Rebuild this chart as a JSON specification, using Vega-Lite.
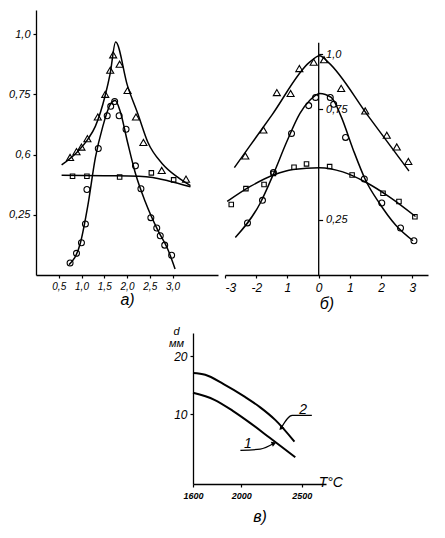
{
  "$schema": "https://vega.github.io/schema/vega-lite/v6.json",
  "background": "white",
  "padding": {"left": 8, "top": 10, "right": 5, "bottom": 5},
  "config": {
    "font": "Liberation Sans",
    "view": {"stroke": null},
    "axis": {"domainColor": "black", "tickColor": "black", "labelColor": "black", "titleColor": "black", "grid": false, "labelFontStyle": "italic", "labelFontSize": 11, "titleFontWeight": "normal", "domainWidth": 1.3, "tickWidth": 1.2, "labelOverlap": false}
  },
  "datasets": {
    "aLines": [
      {"s": "tri", "x": 0.563, "y": 0.457}, {"s": "tri", "x": 0.912, "y": 0.512}, {"s": "tri", "x": 1.141, "y": 0.564}, {"s": "tri", "x": 1.304, "y": 0.617}, {"s": "tri", "x": 1.522, "y": 0.746}, {"s": "tri", "x": 1.631, "y": 0.837}, {"s": "tri", "x": 1.75, "y": 0.967}, {"s": "tri", "x": 2.012, "y": 0.785}, {"s": "tri", "x": 2.24, "y": 0.668}, {"s": "tri", "x": 2.458, "y": 0.551}, {"s": "tri", "x": 2.785, "y": 0.46}, {"s": "tri", "x": 3.112, "y": 0.406}, {"s": "tri", "x": 3.395, "y": 0.371},
      {"s": "circ", "x": 0.727, "y": 0.043}, {"s": "circ", "x": 0.977, "y": 0.134}, {"s": "circ", "x": 1.141, "y": 0.29}, {"s": "circ", "x": 1.304, "y": 0.486}, {"s": "circ", "x": 1.467, "y": 0.616}, {"s": "circ", "x": 1.631, "y": 0.707}, {"s": "circ", "x": 1.74, "y": 0.724}, {"s": "circ", "x": 1.848, "y": 0.681}, {"s": "circ", "x": 2.012, "y": 0.551}, {"s": "circ", "x": 2.186, "y": 0.421}, {"s": "circ", "x": 2.404, "y": 0.303}, {"s": "circ", "x": 2.676, "y": 0.186}, {"s": "circ", "x": 2.894, "y": 0.108}, {"s": "circ", "x": 3.057, "y": 0.025},
      {"s": "sq", "x": 0.563, "y": 0.414}, {"s": "sq", "x": 1.5, "y": 0.412}, {"s": "sq", "x": 2.262, "y": 0.41}, {"s": "sq", "x": 2.567, "y": 0.405}, {"s": "sq", "x": 2.916, "y": 0.39}, {"s": "sq", "x": 3.395, "y": 0.366}
    ],
    "aPoints": [
      {"s": "tri", "x": 0.749, "y": 0.488}, {"s": "tri", "x": 0.89, "y": 0.512}, {"s": "tri", "x": 0.999, "y": 0.531}, {"s": "tri", "x": 1.13, "y": 0.566}, {"s": "tri", "x": 1.358, "y": 0.656}, {"s": "tri", "x": 1.522, "y": 0.75}, {"s": "tri", "x": 1.631, "y": 0.85}, {"s": "tri", "x": 1.696, "y": 0.914}, {"s": "tri", "x": 1.838, "y": 0.875}, {"s": "tri", "x": 2.012, "y": 0.766}, {"s": "tri", "x": 2.197, "y": 0.656}, {"s": "tri", "x": 2.36, "y": 0.55}, {"s": "tri", "x": 2.763, "y": 0.434}, {"s": "tri", "x": 3.297, "y": 0.398},
      {"s": "circ", "x": 0.749, "y": 0.05}, {"s": "circ", "x": 0.89, "y": 0.09}, {"s": "circ", "x": 0.999, "y": 0.134}, {"s": "circ", "x": 1.086, "y": 0.212}, {"s": "circ", "x": 1.119, "y": 0.355}, {"s": "circ", "x": 1.369, "y": 0.525}, {"s": "circ", "x": 1.565, "y": 0.661}, {"s": "circ", "x": 1.642, "y": 0.7}, {"s": "circ", "x": 1.729, "y": 0.72}, {"s": "circ", "x": 1.827, "y": 0.661}, {"s": "circ", "x": 1.979, "y": 0.605}, {"s": "circ", "x": 2.186, "y": 0.453}, {"s": "circ", "x": 2.306, "y": 0.358}, {"s": "circ", "x": 2.524, "y": 0.238}, {"s": "circ", "x": 2.654, "y": 0.195}, {"s": "circ", "x": 2.731, "y": 0.163}, {"s": "circ", "x": 2.829, "y": 0.124}, {"s": "circ", "x": 2.981, "y": 0.082},
      {"s": "sq", "x": 0.803, "y": 0.41}, {"s": "sq", "x": 1.119, "y": 0.41}, {"s": "sq", "x": 1.838, "y": 0.407}, {"s": "sq", "x": 2.535, "y": 0.424}, {"s": "sq", "x": 3.025, "y": 0.395}
    ],
    "bLines": [
      {"s": "tri", "x": -2.7, "y": 0.486}, {"s": "tri", "x": -1.5, "y": 0.724}, {"s": "tri", "x": -0.29, "y": 0.964}, {"s": "tri", "x": 0.03, "y": 0.993}, {"s": "tri", "x": 0.3, "y": 0.964}, {"s": "tri", "x": 1.6, "y": 0.717}, {"s": "tri", "x": 2.89, "y": 0.471},
      {"s": "circ", "x": -2.67, "y": 0.17}, {"s": "circ", "x": -1.87, "y": 0.326}, {"s": "circ", "x": -1.45, "y": 0.457}, {"s": "circ", "x": -1.03, "y": 0.601}, {"s": "circ", "x": -0.6, "y": 0.732}, {"s": "circ", "x": -0.29, "y": 0.79}, {"s": "circ", "x": 0.03, "y": 0.822}, {"s": "circ", "x": 0.4, "y": 0.804}, {"s": "circ", "x": 0.72, "y": 0.717}, {"s": "circ", "x": 1.09, "y": 0.573}, {"s": "circ", "x": 1.51, "y": 0.427}, {"s": "circ", "x": 1.94, "y": 0.326}, {"s": "circ", "x": 2.47, "y": 0.225}, {"s": "circ", "x": 3.02, "y": 0.155},
      {"s": "sq", "x": -2.93, "y": 0.333}, {"s": "sq", "x": -2.19, "y": 0.401}, {"s": "sq", "x": -1.45, "y": 0.453}, {"s": "sq", "x": -0.82, "y": 0.478}, {"s": "sq", "x": 0.03, "y": 0.486}, {"s": "sq", "x": 0.77, "y": 0.467}, {"s": "sq", "x": 1.51, "y": 0.42}, {"s": "sq", "x": 2.25, "y": 0.355}, {"s": "sq", "x": 3.1, "y": 0.265}
    ],
    "bPoints": [
      {"s": "tri", "x": -2.35, "y": 0.539}, {"s": "tri", "x": -1.77, "y": 0.657}, {"s": "tri", "x": -1.34, "y": 0.826}, {"s": "tri", "x": -0.9, "y": 0.822}, {"s": "tri", "x": -0.62, "y": 0.935}, {"s": "tri", "x": -0.16, "y": 0.964}, {"s": "tri", "x": 0.17, "y": 0.975}, {"s": "tri", "x": 0.72, "y": 0.845}, {"s": "tri", "x": 1.49, "y": 0.743}, {"s": "tri", "x": 2.18, "y": 0.633}, {"s": "tri", "x": 2.5, "y": 0.58}, {"s": "tri", "x": 2.87, "y": 0.514},
      {"s": "circ", "x": -2.28, "y": 0.236}, {"s": "circ", "x": -1.8, "y": 0.338}, {"s": "circ", "x": -1.45, "y": 0.464}, {"s": "circ", "x": -0.87, "y": 0.641}, {"s": "circ", "x": -0.32, "y": 0.767}, {"s": "circ", "x": -0.1, "y": 0.804}, {"s": "circ", "x": 0.37, "y": 0.804}, {"s": "circ", "x": 0.48, "y": 0.773}, {"s": "circ", "x": 0.86, "y": 0.623}, {"s": "circ", "x": 1.46, "y": 0.435}, {"s": "circ", "x": 2.02, "y": 0.326}, {"s": "circ", "x": 2.62, "y": 0.213}, {"s": "circ", "x": 3.05, "y": 0.155},
      {"s": "sq", "x": -2.8, "y": 0.319}, {"s": "sq", "x": -2.33, "y": 0.391}, {"s": "sq", "x": -1.75, "y": 0.41}, {"s": "sq", "x": -1.45, "y": 0.46}, {"s": "sq", "x": -0.79, "y": 0.488}, {"s": "sq", "x": -0.39, "y": 0.503}, {"s": "sq", "x": 0.35, "y": 0.491}, {"s": "sq", "x": 1.07, "y": 0.453}, {"s": "sq", "x": 2.06, "y": 0.37}, {"s": "sq", "x": 2.57, "y": 0.333}, {"s": "sq", "x": 3.08, "y": 0.264}
    ],
    "cLines": [
      {"c": "2", "T": 1600, "d": 17.1}, {"c": "2", "T": 1701, "d": 16.8}, {"c": "2", "T": 1853, "d": 15.2}, {"c": "2", "T": 2030, "d": 13.0}, {"c": "2", "T": 2156, "d": 11.2}, {"c": "2", "T": 2282, "d": 9.0}, {"c": "2", "T": 2439, "d": 5.3},
      {"c": "1", "T": 1600, "d": 13.7}, {"c": "1", "T": 1777, "d": 12.5}, {"c": "1", "T": 1929, "d": 10.6}, {"c": "1", "T": 2080, "d": 8.4}, {"c": "1", "T": 2232, "d": 6.0}, {"c": "1", "T": 2446, "d": 2.6}
    ],
    "cLeaders": [
      {"c": "2", "k": 0, "T": 2583, "d": 9.8}, {"c": "2", "k": 1, "T": 2421, "d": 9.8}, {"c": "2", "k": 2, "T": 2328, "d": 7.6},
      {"c": "1", "k": 0, "T": 1992, "d": 3.8}, {"c": "1", "k": 1, "T": 2156, "d": 4.0}, {"c": "1", "k": 2, "T": 2270, "d": 5.0}
    ],
    "cArrows": [
      {"c": "2", "T": 2328, "d": 7.6, "ang": 222},
      {"c": "1", "T": 2270, "d": 5.0, "ang": 68}
    ],
    "cLabels": [
      {"t": "2", "T": 2511, "d": 10.8},
      {"t": "1", "T": 2054, "d": 4.9},
      {"t": "T°C", "T": 2740, "d": -1.9}
    ]
  },
  "bounds": "flush",
  "spacing": 323,
  "vconcat": [
    {
      "bounds": "flush",
      "spacing": 7,
      "hconcat": [
        {
          "width": 182,
          "height": 265,
          "layer": [
            {
              "data": {"name": "aLines"},
              "mark": {"type": "line", "interpolate": "monotone", "color": "black", "strokeWidth": 1.5},
              "encoding": {
                "x": {"field": "x", "type": "quantitative", "scale": {"domain": [0.41, 3.41]},
                  "axis": {"values": [0.5, 1, 1.5, 2, 2.5, 3], "tickCount": 20, "labelOverlap": false, "labelBound": false, "labelExpr": "replace(format(datum.value, '.1f'), '.', ',')", "tickSize": 3, "labelPadding": 3, "labelFontSize": 10, "title": "а)", "titleFontSize": 16, "titleFontStyle": "italic", "titlePadding": 0}},
                "y": {"field": "y", "type": "quantitative", "scale": {"domain": [0.02, 1.06]},
                  "axis": {"values": [0.25, 0.5, 0.75, 1], "tickCount": 20, "labelOverlap": false, "labelExpr": "datum.value == 1 ? '1,0' : datum.value == 0.75 ? '0,75' : datum.value == 0.5 ? '0,6' : '0,25'", "tickSize": 3, "labelPadding": 3, "title": null}},
                "detail": {"field": "s"}
              }
            },
            {
              "data": {"name": "aPoints"},
              "mark": {"type": "point", "filled": false, "color": "black", "strokeWidth": 1.1, "opacity": 1},
              "encoding": {
                "x": {"field": "x", "type": "quantitative"},
                "y": {"field": "y", "type": "quantitative"},
                "shape": {"field": "s", "type": "nominal", "scale": {"domain": ["tri", "circ", "sq"], "range": ["triangle-up", "circle", "square"]}, "legend": null},
                "size": {"field": "s", "type": "nominal", "scale": {"domain": ["tri", "circ", "sq"], "range": [50, 20, 30]}, "legend": null}
              }
            }
          ]
        },
        {
          "width": 203,
          "height": 265,
          "layer": [
            {
              "data": {"name": "bLines"},
              "mark": {"type": "line", "interpolate": "monotone", "color": "black", "strokeWidth": 1.5},
              "encoding": {
                "x": {"field": "x", "type": "quantitative", "scale": {"domain": [-3, 3.5]},
                  "axis": {"values": [-3, -2, -1, 0, 1, 2, 3], "tickCount": 20, "labelOverlap": false, "labelBound": false, "labelExpr": "datum.value < -1 ? '-' + abs(datum.value) : datum.value == -1 ? '1' : '' + datum.value", "tickSize": 3, "labelPadding": 4, "labelFontSize": 12, "title": "б)", "titleFontSize": 16, "titleFontStyle": "italic", "titlePadding": 2}},
                "y": {"field": "y", "type": "quantitative", "scale": {"domain": [0, 1.152]},
                  "axis": {"orient": "right", "offset": -109.4, "domain": false, "values": [0.25, 0.75, 1], "tickCount": 20, "labelOverlap": false, "labelExpr": "datum.value == 1 ? '1,0' : datum.value == 0.75 ? '0,75' : '0,25'", "tickSize": 4, "labelPadding": 3, "title": null}},
                "detail": {"field": "s"}
              }
            },
            {
              "data": {"name": "bPoints"},
              "mark": {"type": "point", "filled": false, "color": "black", "strokeWidth": 1.1, "opacity": 1},
              "encoding": {
                "x": {"field": "x", "type": "quantitative"},
                "y": {"field": "y", "type": "quantitative"},
                "shape": {"field": "s", "type": "nominal", "scale": {"domain": ["tri", "circ", "sq"], "range": ["triangle-up", "circle", "square"]}, "legend": null},
                "size": {"field": "s", "type": "nominal", "scale": {"domain": ["tri", "circ", "sq"], "range": [50, 20, 30]}, "legend": null}
              }
            },
            {
              "data": {"values": [{"v": 0}]},
              "mark": {"type": "rule", "color": "black", "strokeWidth": 1.3},
              "encoding": {
                "x": {"datum": 0, "type": "quantitative"},
                "y": {"datum": 0, "type": "quantitative"},
                "y2": {"datum": 1.052}
              }
            }
          ]
        }
      ]
    },
    {
      "bounds": "flush",
      "spacing": 7,
      "hconcat": [
        {
          "width": 150,
          "height": 151,
          "data": {"values": [{"v": 0}]},
          "mark": {"type": "point", "opacity": 0},
          "encoding": {}
        },
        {
          "width": 133,
          "height": 151,
          "layer": [
            {
              "data": {"name": "cLines"},
              "mark": {"type": "line", "interpolate": "monotone", "color": "black", "strokeWidth": 2},
              "encoding": {
                "x": {"field": "T", "type": "quantitative", "scale": {"domain": [1600, 2610]},
                  "axis": {"values": [1600, 2000, 2500], "tickCount": 20, "labelOverlap": false, "format": "d", "labelFontSize": 9, "labelFontWeight": "bold", "tickSize": 3, "labelPadding": 4, "labelFlush": false, "title": "в)", "titleFontSize": 16, "titleFontStyle": "italic", "titlePadding": 8}},
                "y": {"field": "d", "type": "quantitative", "scale": {"domain": [-0.3, 24]},
                  "axis": {"values": [10, 20], "tickCount": 20, "labelOverlap": false, "tickSize": 3, "labelPadding": 3, "labelFontSize": 12, "title": ["d", "мм"], "titleAngle": 0, "titleFontSize": 11, "titleFontStyle": "italic", "titleX": -17, "titleY": -8, "titleAlign": "center", "titleBaseline": "top", "titleLineHeight": 12}},
                "detail": {"field": "c"}
              }
            },
            {
              "data": {"name": "cLeaders"},
              "mark": {"type": "line", "interpolate": "monotone", "color": "black", "strokeWidth": 1.2},
              "encoding": {
                "x": {"field": "T", "type": "quantitative"},
                "y": {"field": "d", "type": "quantitative"},
                "detail": {"field": "c"},
                "order": {"field": "k"}
              }
            },
            {
              "data": {"name": "cArrows"},
              "mark": {"type": "point", "shape": "triangle-up", "filled": true, "color": "black", "size": 30, "opacity": 1},
              "encoding": {
                "x": {"field": "T", "type": "quantitative"},
                "y": {"field": "d", "type": "quantitative"},
                "angle": {"field": "ang", "type": "quantitative", "scale": null}
              }
            },
            {
              "data": {"name": "cLabels"},
              "mark": {"type": "text", "color": "black", "fontSize": 14, "fontStyle": "italic", "font": "Liberation Sans"},
              "encoding": {
                "x": {"field": "T", "type": "quantitative"},
                "y": {"field": "d", "type": "quantitative"},
                "text": {"field": "t"}
              }
            }
          ]
        }
      ]
    }
  ]
}
